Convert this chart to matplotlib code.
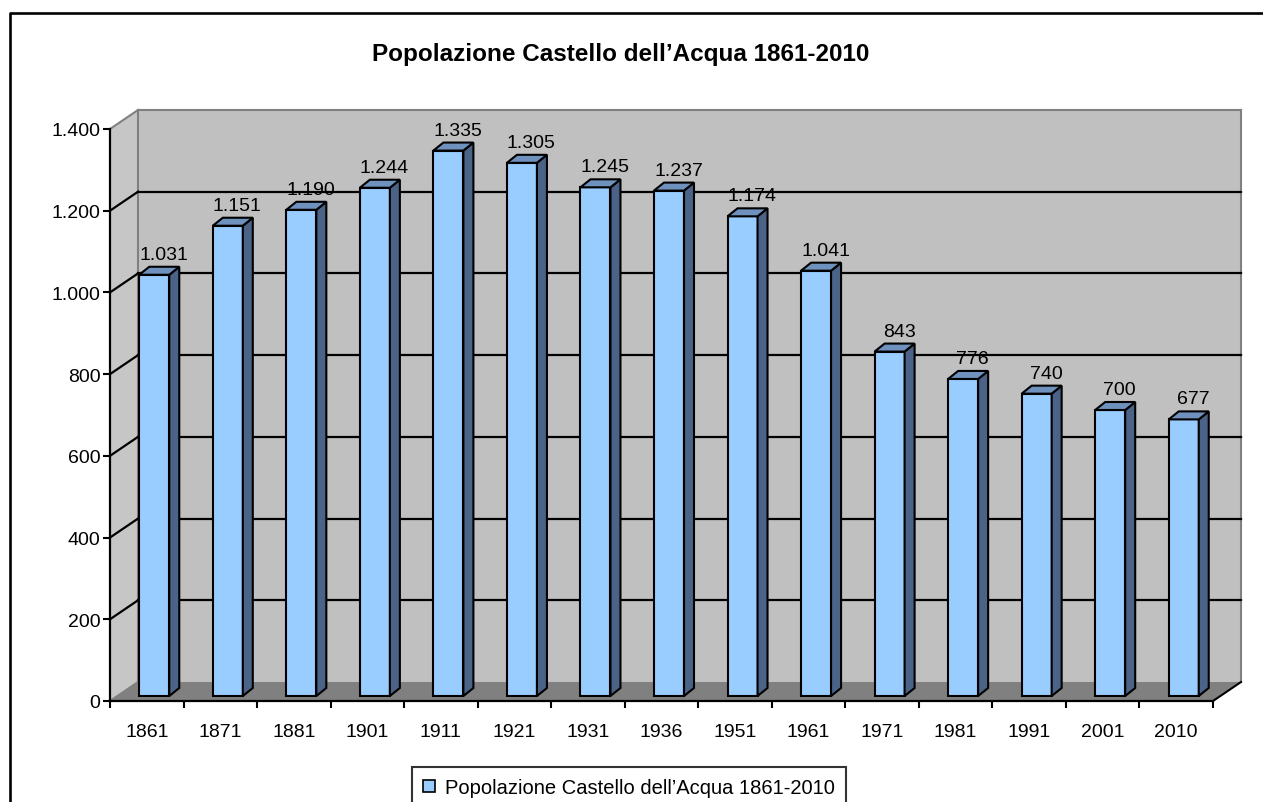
import matplotlib
matplotlib.use("Agg")
import matplotlib.pyplot as plt
from matplotlib.patches import Polygon, Rectangle, Patch
from matplotlib.lines import Line2D
from matplotlib.ticker import FuncFormatter

plt.rcParams["font.family"] = ["Liberation Sans", "DejaVu Sans"]

years = ["1861", "1871", "1881", "1901", "1911", "1921", "1931", "1936",
         "1951", "1961", "1971", "1981", "1991", "2001", "2010"]
population = [1031, 1151, 1190, 1244, 1335, 1305, 1245, 1237,
              1174, 1041, 843, 776, 740, 700, 677]
y_ticks = [0, 200, 400, 600, 800, 1000, 1200, 1400]
series_name = "Popolazione Castello dell\u2019Acqua 1861-2010"
title = "Popolazione Castello dell\u2019Acqua 1861-2010"

W, H, DPI = 1263, 803, 100
fig = plt.figure(figsize=(W / DPI, H / DPI), dpi=DPI)

# front plane of the 3d box, in image pixels
left_px, right_px, top_px, bottom_px = 110, 1213, 130, 702
ax = fig.add_axes([left_px / W, 1 - bottom_px / H,
                   (right_px - left_px) / W, (bottom_px - top_px) / H])
n = len(years)
ymax = y_ticks[-1]
ax.set_xlim(0, n)
ax.set_ylim(0, ymax)
ax.patch.set_visible(False)

px_x = (right_px - left_px) / n      # pixels per category
px_y = (bottom_px - top_px) / ymax   # pixels per unit


def dx(p):
    return p / px_x


def dy(p):
    return p / px_y


# wall depth
Dx, Dy = dx(28), dy(19)
wall = "#c0c0c0"
edge = "#808080"

ax.add_patch(Rectangle((Dx, Dy), n, ymax, fc=wall, ec="none", zorder=0.5, clip_on=False))
ax.add_patch(Polygon([(0, 0), (Dx, Dy), (Dx, ymax + Dy), (0, ymax)],
                     closed=True, fc="#c6c6c6", ec="none", zorder=0.5, clip_on=False))
ax.add_patch(Polygon([(0, 0), (n, 0), (n + Dx, Dy), (Dx, Dy)],
                     closed=True, fc="#808080", ec="none", zorder=0.6, clip_on=False))

# wall edges
for xs, ys, c in [
    ([Dx, n + Dx], [ymax + Dy, ymax + Dy], edge),
    ([n + Dx, n + Dx], [Dy, ymax + Dy], edge),
    ([Dx, Dx], [Dy, ymax + Dy], edge),
    ([0, Dx], [ymax, ymax + Dy], edge),
    ([0, Dx], [0, Dy], edge),
    ([n, n + Dx], [0, Dy], "black"),
]:
    ax.add_line(Line2D(xs, ys, color=c, lw=1.5, zorder=0.8, clip_on=False))

# gridlines on back and side walls
for v in y_ticks[1:-1]:
    ax.add_line(Line2D([Dx, n + Dx], [v + Dy, v + Dy], color="black", lw=1.6,
                       zorder=0.9, clip_on=False))
    ax.add_line(Line2D([0, Dx], [v, v + Dy], color="black", lw=1.6,
                       zorder=0.9, clip_on=False))

# bars
bw = dx(30)
fx, fy = dx(7.5), dy(5)
bdx, bdy = dx(10), dy(8)
xs = [i + 0.5 for i in range(n)]
x0s = [x - bw / 2 + fx for x in xs]
ax.bar(x0s, population, width=bw, bottom=fy, align="edge", color="#99ccff",
       edgecolor="black", linewidth=1.5, zorder=3)
for x0, v in zip(x0s, population):
    top = fy + v
    ax.add_patch(Polygon([(x0 + bw, fy), (x0 + bw + bdx, fy + bdy),
                          (x0 + bw + bdx, top + bdy), (x0 + bw, top)],
                         closed=True, fc="#4b6387", ec="black", lw=1.5,
                         zorder=3, clip_on=False))
    ax.add_patch(Polygon([(x0, top), (x0 + bw, top), (x0 + bw + bdx, top + bdy),
                          (x0 + bdx, top + bdy)],
                         closed=True, fc="#6f91bd", ec="black", lw=1.5,
                         zorder=3, clip_on=False))


def it_fmt(v):
    return f"{int(v):,}".replace(",", ".")


for x, v in zip(xs, population):
    ax.annotate(it_fmt(v), xy=(x, v), xytext=(17, 21), textcoords="offset pixels",
                ha="center", va="baseline", fontsize=14, zorder=4)

# axes
for s in ["top", "right"]:
    ax.spines[s].set_visible(False)
for s in ["left", "bottom"]:
    ax.spines[s].set_linewidth(1.6)
    ax.spines[s].set_color("black")
ax.set_yticks(y_ticks)
ax.yaxis.set_major_formatter(FuncFormatter(lambda v, p: it_fmt(v)))
ax.tick_params(axis="y", direction="out", length=5, width=1.5, pad=2, labelsize=14)
ax.set_xticks(range(n + 1))
ax.set_xticklabels([])
ax.set_xticks(xs, minor=True)
ax.set_xticklabels(years, minor=True)
ax.tick_params(axis="x", which="major", direction="out", length=5, width=1.5)
ax.tick_params(axis="x", which="minor", length=0, pad=16, labelsize=14)

fig.text(621 / W, 1 - 55 / H, title, ha="center", va="center",
         fontsize=17.5, fontweight="bold")

leg = fig.legend(handles=[Patch(fc="#99ccff", ec="black", lw=1.2)], labels=[series_name],
                 loc="upper center", bbox_to_anchor=(629 / W, 1 - 768 / H),
                 fontsize=14.5, frameon=True, fancybox=False, handlelength=0.6,
                 handleheight=0.6, handletextpad=0.5, borderpad=0.55, borderaxespad=0)
leg.get_frame().set_edgecolor("black")
leg.get_frame().set_linewidth(1.5)

# outer chart border
fig.add_artist(Line2D([10 / W, 10 / W, 1], [0, 1 - 14 / H, 1 - 14 / H],
                      transform=fig.transFigure, color="black", lw=1.9))

fig.savefig("out.png", dpi=DPI)
